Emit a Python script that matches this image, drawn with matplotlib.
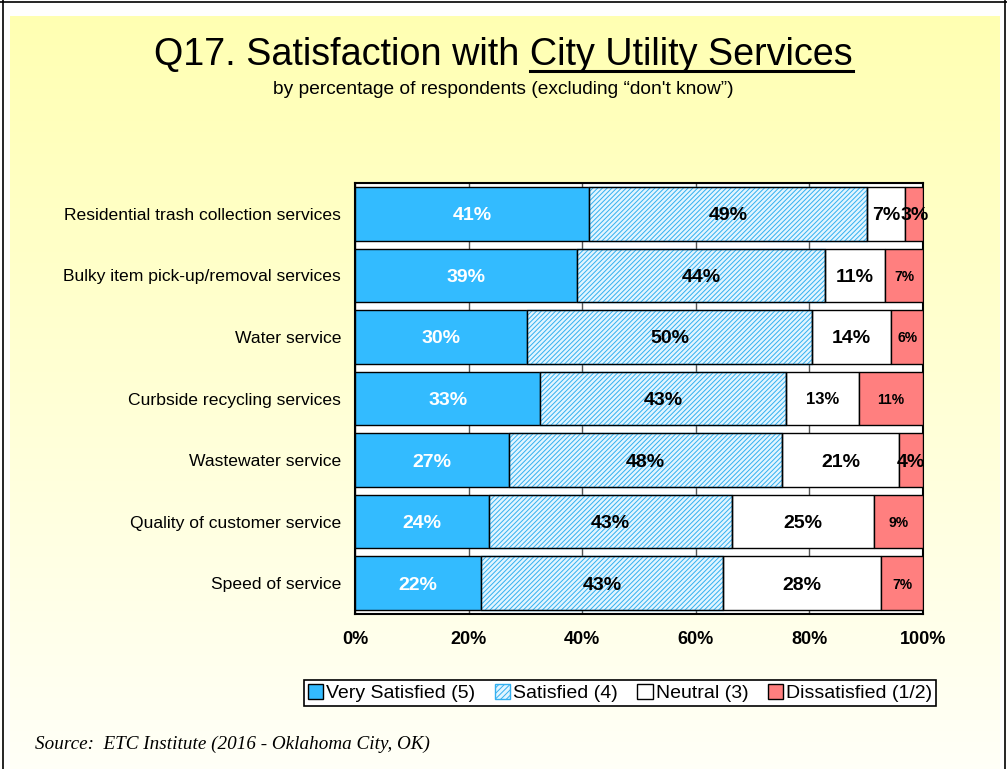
import numpy as np
import matplotlib
matplotlib.use("Agg")
from matplotlib import pyplot as plt
from matplotlib.patches import Patch
from matplotlib.lines import Line2D

plt.rcParams['font.family'] = ['Liberation Sans', 'DejaVu Sans']
plt.rcParams['hatch.linewidth'] = 0.7

services = ["Residential trash collection services",
            "Bulky item pick-up/removal services",
            "Water service",
            "Curbside recycling services",
            "Wastewater service",
            "Quality of customer service",
            "Speed of service"]
very_satisfied = [41.2, 39.1, 30.3, 32.6, 27.1, 23.6, 22.2]
satisfied = [48.9, 43.6, 50.2, 43.3, 48.1, 42.8, 42.6]
neutral = [6.8, 10.6, 13.9, 12.8, 20.6, 25.0, 27.8]
dissatisfied = [3.1, 6.7, 5.6, 11.3, 4.2, 8.6, 7.4]
series_names = ["Very Satisfied (5)", "Satisfied (4)", "Neutral (3)", "Dissatisfied (1/2)"]
xticks = [0, 20, 40, 60, 80, 100]

W, H = 1007, 769
fig = plt.figure(figsize=(W / 100, H / 100), dpi=100)
fig.patch.set_facecolor("white")

# background gradient panel
bg = fig.add_axes([10 / W, 0, 990 / W, 1 - 16 / H], zorder=-10)
grad = np.linspace(0, 1, 256)[:, None]
top = np.array([1.0, 1.0, 0.70])
bot = np.array([1.0, 1.0, 0.97])
img = top[None, None, :] * (1 - grad[..., None]) + bot[None, None, :] * grad[..., None]
bg.imshow(img, aspect="auto", extent=[0, 1, 0, 1])
bg.axis("off")

# outer border lines
fig.add_artist(Line2D([0, 1], [1 - 1.5 / H, 1 - 1.5 / H], color="black", lw=1.2))
fig.add_artist(Line2D([2.5 / W, 2.5 / W], [0, 1], color="black", lw=1.2))
fig.add_artist(Line2D([1 - 2.5 / W, 1 - 2.5 / W], [0, 1], color="black", lw=1.2))

ax = fig.add_axes([355 / W, 1 - 614 / H, 568 / W, 431 / H])
ax.set_facecolor("white")

y = np.arange(len(services))[::-1]
colors = ["#33bbff", "#e2f5ff", "white", "#ff7f7f"]
data = [very_satisfied, satisfied, neutral, dissatisfied]
left = np.zeros(len(services))
for i, (vals, c) in enumerate(zip(data, colors)):
    vals = np.array(vals)
    bars = ax.barh(y, vals, left=left, height=0.87, color=c, edgecolor="black",
                   linewidth=1, zorder=3)
    if i == 1:
        for b in bars:
            b.set_hatch("///////")
            b.set_edgecolor("#33b0f0")
        # redraw black outlines
        ax.barh(y, vals, left=left, height=0.87, facecolor="none",
                edgecolor="black", linewidth=1, zorder=4)
    for yy, l, v in zip(y, left, vals):
        fs = 14
        if i == 3 and v > 5:
            fs = 10
        elif i == 2 and 12 < v < 13.5:
            fs = 12
        ax.text(l + v / 2, yy, f"{round(v):.0f}%", ha="center", va="center_baseline",
                fontsize=fs, fontweight="bold", color="white" if i == 0 else "black",
                zorder=5)
    left = left + vals

ax.set_xlim(0, 100)
ax.set_ylim(-0.5, len(services) - 0.5)
ax.set_yticks(y)
ax.set_yticklabels(services, fontsize=12.6)
ax.set_xticks(xticks)
ax.set_xticklabels([f"{t}%" for t in xticks], fontsize=13, fontweight="bold")
ax.tick_params(axis="both", length=0)
ax.tick_params(axis="x", pad=12)
ax.tick_params(axis="y", pad=10)
ax.xaxis.grid(True, color="#555555", lw=1, zorder=0)
ax.set_axisbelow(True)
for s in ax.spines.values():
    s.set_linewidth(1.5)
    s.set_color("black")

# legend
handles = [Patch(facecolor=colors[0], edgecolor="black"),
           Patch(facecolor=colors[1], edgecolor="#33b0f0", hatch="//////"),
           Patch(facecolor=colors[2], edgecolor="black"),
           Patch(facecolor=colors[3], edgecolor="black")]
leg = fig.legend(handles, series_names, loc="center", bbox_to_anchor=(620 / W, 1 - 693 / H),
                 ncol=4, fontsize=14, frameon=True, fancybox=False, edgecolor="black",
                 handlelength=0.8, handleheight=0.8, handletextpad=0.15, columnspacing=1.0,
                 borderpad=0.2, borderaxespad=0)
leg.get_frame().set_linewidth(1.2)
leg.get_frame().set_facecolor("white")
leg.get_frame().set_alpha(1)

# title with underlined part
title_y = 1 - 55 / H
prefix = "Q17. Satisfaction with "
under = "City Utility Services"
t = fig.text(0.5, title_y, prefix + under, ha="center", va="center", fontsize=27.2)
fig.text(0.5, 1 - 90 / H, "by percentage of respondents (excluding \u201cdon't know\u201d)",
         ha="center", va="center", fontsize=13.8)
fig.canvas.draw()
r = fig.canvas.get_renderer()
bb = t.get_window_extent(r)
tmp = fig.text(0, 0, prefix, fontsize=27.2)
pw = tmp.get_window_extent(r).width
tmp.remove()
x0 = (bb.x0 + pw) / W
x1 = bb.x1 / W
uy = 1 - 71 / H
fig.add_artist(Line2D([x0, x1], [uy, uy], color="black", lw=2.2))

fig.text(35 / W, 1 - 744 / H, "Source:  ETC Institute (2016 - Oklahoma City, OK)",
         family="Liberation Serif", style="italic", fontsize=13.8, ha="left", va="center")

fig.savefig("out.png", dpi=100)
